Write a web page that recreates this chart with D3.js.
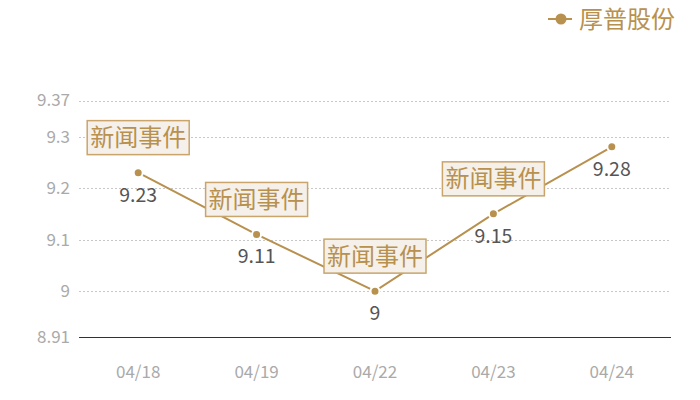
<!DOCTYPE html>
<html>
<head>
<meta charset="utf-8">
<script src="https://cdn.jsdelivr.net/npm/d3@7"></script>
<style>
  body { margin: 0; background: #fff; }
  svg { display: block; font-family: "Noto Sans CJK SC", "Noto Sans", sans-serif; }
</style>
</head>
<body>
<svg width="700" height="400"></svg>
<script>
const dates = ["04/18", "04/19", "04/22", "04/23", "04/24"]
const prices = [9.23, 9.11, 9.00, 9.15, 9.28]
const events = ["新闻事件", "新闻事件", "新闻事件", "新闻事件", null]
const yTicks = [8.91, 9, 9.1, 9.2, 9.3, 9.37]
const seriesName = "厚普股份"

const gold = "#b8914f"
const svg = d3.select("svg")

const x = d3.scaleBand().domain(dates).range([79, 671])
const y = d3.scaleLinear().domain([8.91, 9.37]).range([337.5, 100.5])
const cx = d => x(d) + x.bandwidth() / 2

// grid
svg.append("g")
    .selectAll("line")
    .data(yTicks.slice(1))
    .enter()
    .append("line")
    .attr("x1", 79).attr("x2", 671)
    .attr("y1", d => Math.round(y(d)) + 0.5).attr("y2", d => Math.round(y(d)) + 0.5)
    .attr("stroke", "#c8c8c8")
    .attr("stroke-dasharray", "2,2")

svg.append("line")
    .attr("x1", 79).attr("x2", 671)
    .attr("y1", y(8.91)).attr("y2", y(8.91))
    .attr("stroke", "#333")

svg.append("g")
    .selectAll("text")
    .data(yTicks)
    .enter()
    .append("text")
    .attr("x", 70)
    .attr("y", d => y(d))
    .attr("dy", "0.35em")
    .attr("text-anchor", "end")
    .attr("fill", "#aaa")
    .attr("font-size", 17)
    .text(d => d)

svg.append("g")
    .selectAll("text")
    .data(dates)
    .enter()
    .append("text")
    .attr("x", d => cx(d))
    .attr("y", 378)
    .attr("text-anchor", "middle")
    .attr("fill", "#aaa")
    .attr("font-size", 17)
    .text(d => d)

const pts = dates.map((d, i) => ({ d, v: prices[i], ev: events[i] }))

// line
svg.append("path")
    .datum(pts)
    .attr("fill", "none")
    .attr("stroke", gold)
    .attr("stroke-width", 2)
    .attr("d", d3.line().x(p => cx(p.d)).y(p => y(p.v)))

// points
svg.append("g")
    .selectAll("circle")
    .data(pts)
    .enter()
    .append("circle")
    .attr("cx", p => cx(p.d))
    .attr("cy", p => y(p.v))
    .attr("r", 4.5)
    .attr("fill", gold)
    .attr("stroke", "#fff")
    .attr("stroke-width", 2)

// value labels
svg.append("g")
    .selectAll("text")
    .data(pts)
    .enter()
    .append("text")
    .attr("x", p => cx(p.d))
    .attr("y", p => y(p.v) + 29)
    .attr("text-anchor", "middle")
    .attr("fill", "#555")
    .attr("font-size", 19.5)
    .text(p => p.v)

// event boxes
const ev = svg.append("g")
    .selectAll("g")
    .data(pts.filter(p => p.ev))
    .enter()
    .append("g")
    .attr("transform", p => `translate(${cx(p.d)},${y(p.v) - 35})`)

ev.append("rect")
    .attr("x", -51).attr("y", -17)
    .attr("width", 102).attr("height", 34)
    .attr("fill", "#f5f0ea")
    .attr("stroke", "#c9a56b")
    .attr("stroke-width", 1.5)

ev.append("text")
    .attr("text-anchor", "middle")
    .attr("dy", "0.36em")
    .attr("fill", gold)
    .attr("font-size", 24)
    .text(p => p.ev)

// legend
const lg = svg.append("g").attr("transform", "translate(548,19)")
lg.append("line").attr("x1", 0).attr("x2", 24).attr("stroke", gold).attr("stroke-width", 2)
lg.append("circle").attr("cx", 13).attr("r", 5.5).attr("fill", gold)
lg.append("text")
    .attr("x", 31)
    .attr("dy", "0.36em")
    .attr("fill", gold)
    .attr("font-size", 24)
    .text(seriesName)
</script>
</body>
</html>
